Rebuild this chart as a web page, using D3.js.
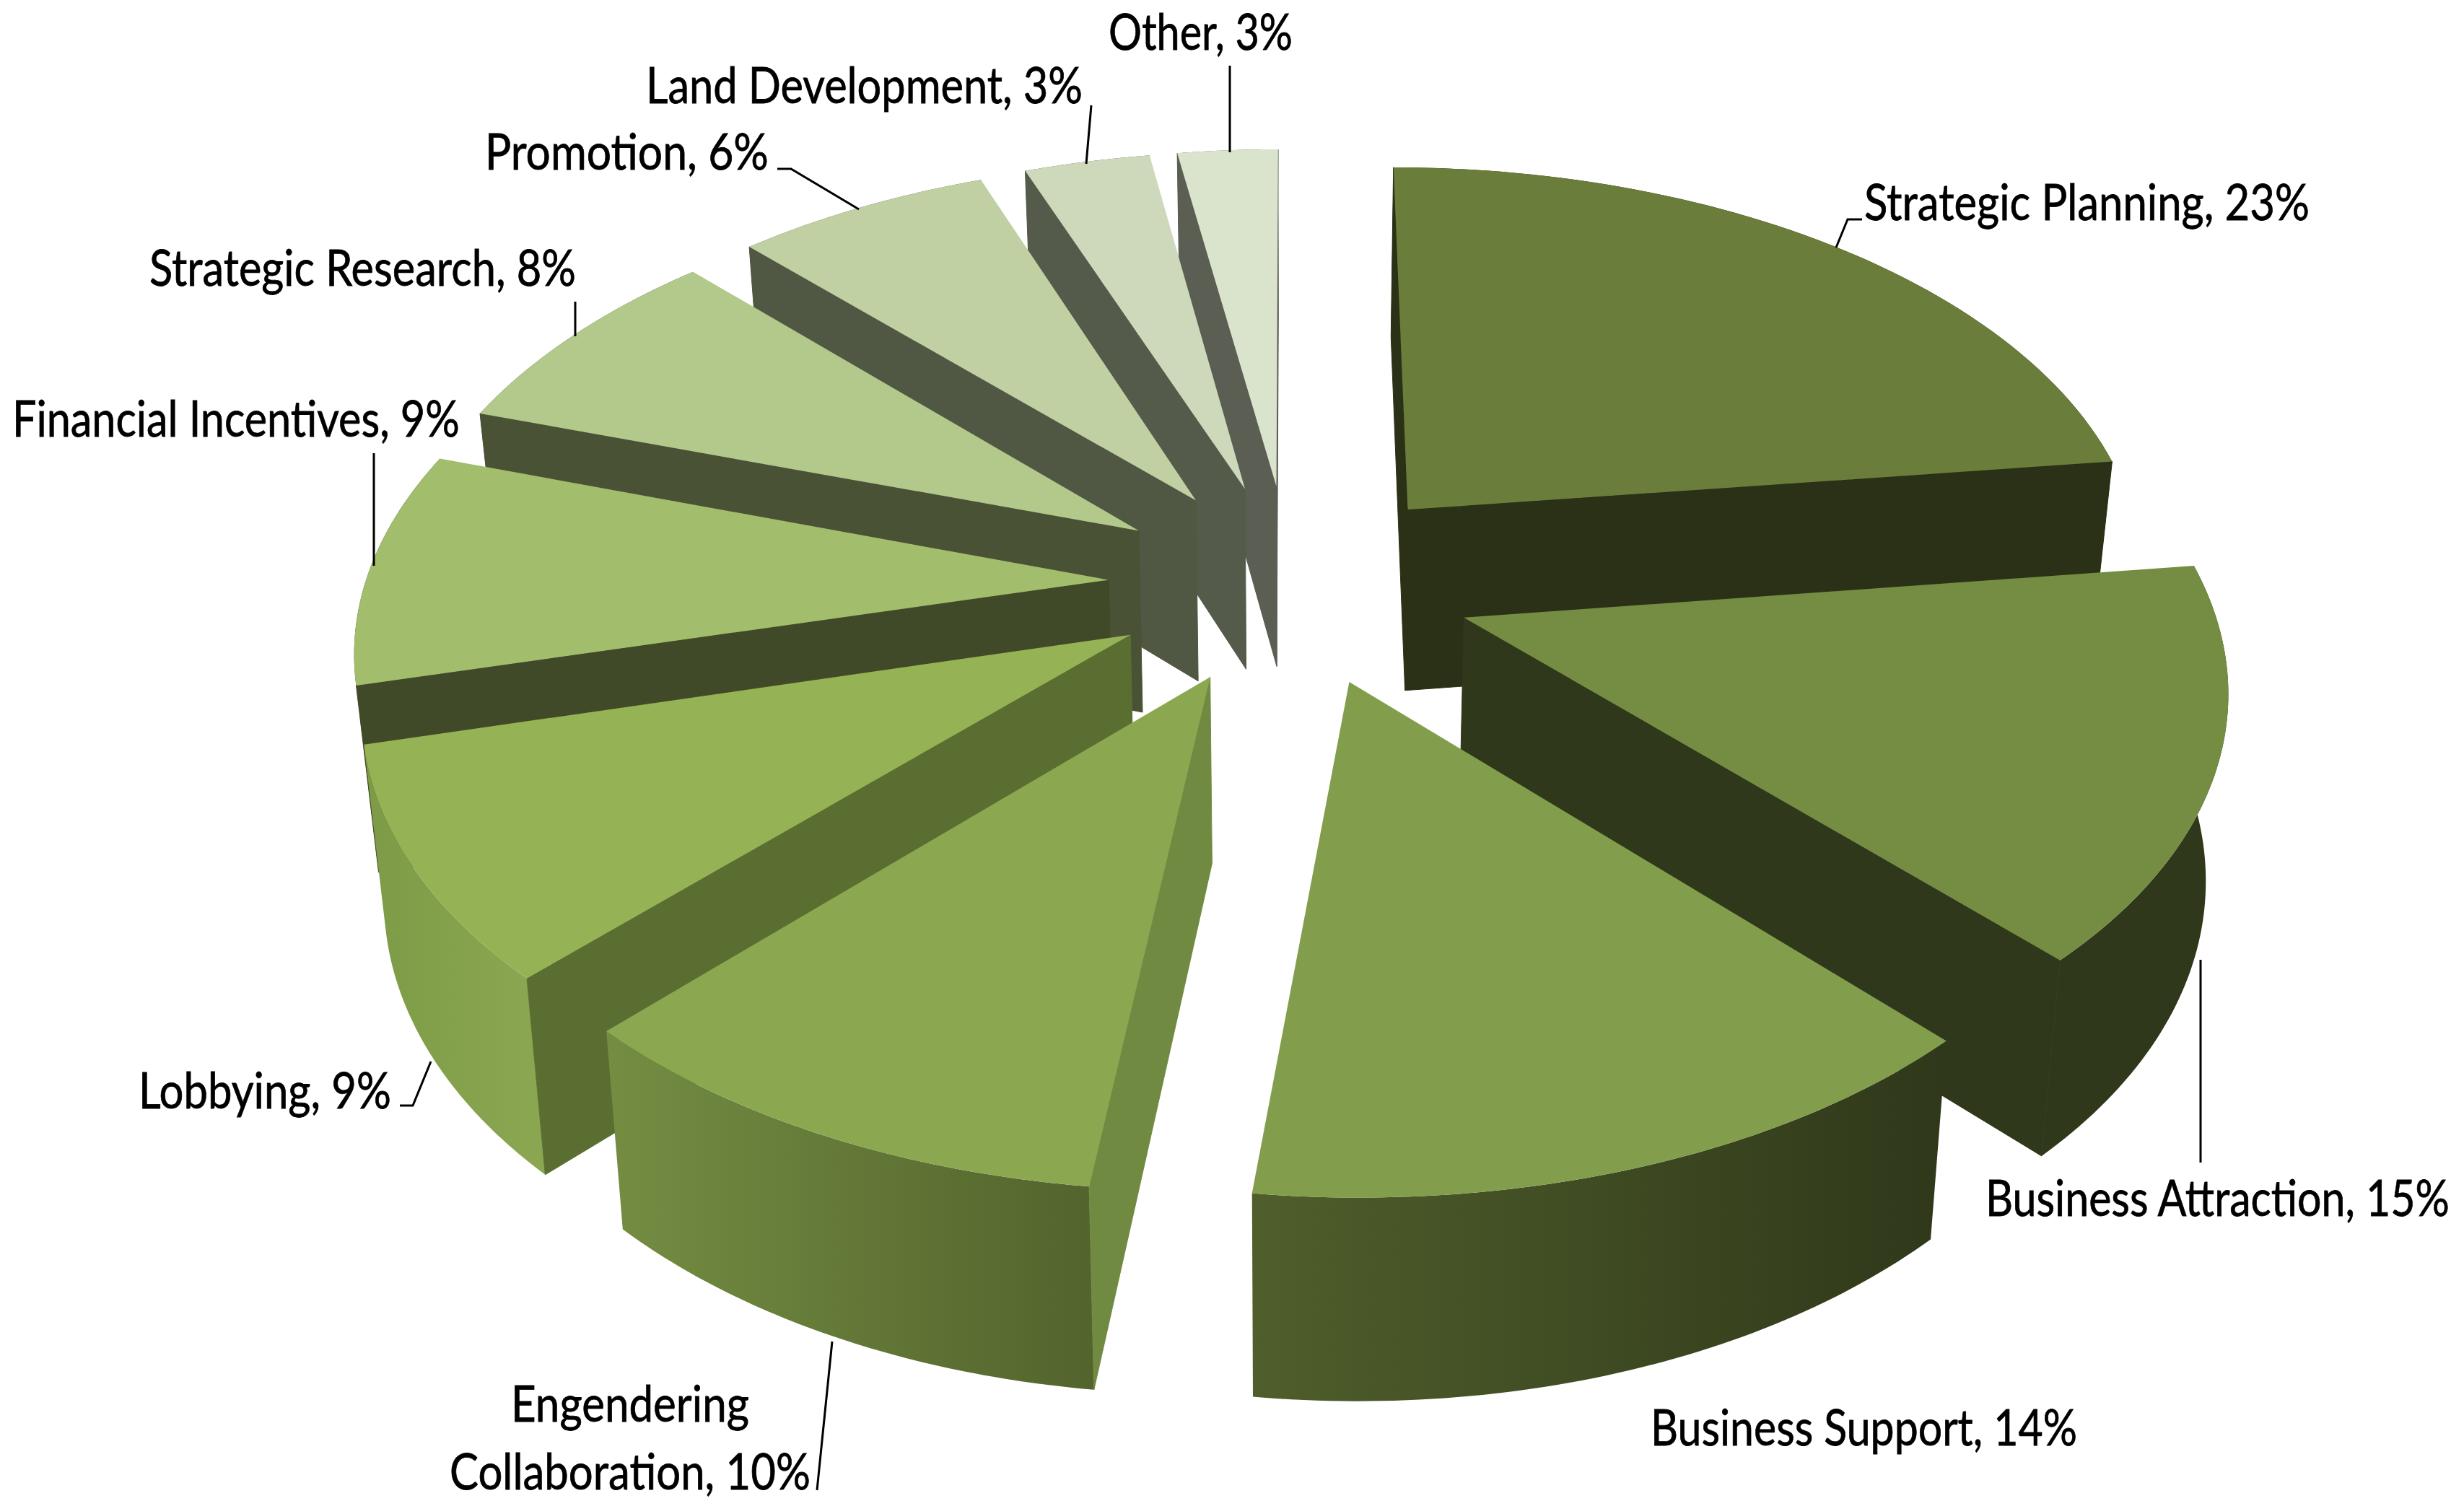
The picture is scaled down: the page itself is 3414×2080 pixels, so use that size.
<!DOCTYPE html>
<html>
<head>
<meta charset="utf-8">
<script src="https://cdn.jsdelivr.net/npm/d3@7"></script>
<style>
  html, body { margin: 0; background: #fff; }
  text { font-family: Lato, "Open Sans", sans-serif; font-size: 70px; fill: #000; stroke: #000; stroke-width: 0.8px; }
</style>
</head>
<body>
<div id="chart"></div>
<script>
const categories = ['Strategic Planning', 'Business Attraction', 'Business Support', 'Engendering Collaboration', 'Lobbying',
    'Financial Incentives', 'Strategic Research', 'Promotion', 'Land Development', 'Other'];
// labels show these rounded, the slice angles read a little finer
const shares = [23, 15, 13.9, 10.25, 8.85, 9, 7.8, 6.45, 3.2, 2.55];

const topColors = ['#6a7d3a', '#748d42', '#829e4c', '#8ba850', '#95b254', '#a2bd6b', '#b3c98c', '#c0d0a3', '#cdd9ba', '#dae3cc'];
const sideColors = ['#2a3116', '#2f381a', '#2f381a', '#718a41', '#5b6e32', '#414a28', '#4a5236', '#505742', '#555b4a', '#5a5e53'];
// left and right colour of the curved outer wall
const wallLeft = ['#2a3116', '#2f381a', '#4f5e2b', '#748d42', '#7d9a46', '#414a28', '#4a5236', '#505742', '#555b4a', '#5a5e53'];
const wallRight = ['#2a3116', '#2f381a', '#2f381a', '#53642d', '#8aa650', '#414a28', '#4a5236', '#505742', '#555b4a', '#5a5e53'];

// back slices first, front ones paint over them
const drawOrder = [9, 8, 7, 6, 5, 4, 3, 0, 1, 2];

// label rows: [x, baseline, width]
const labelLayout = [
    [[2583, 305, 617]],
    [[2751, 1685, 643]],
    [[2287, 2003, 591]],
    [[708, 1970, 330], [623, 2064, 500]],
    [[192, 1536, 350]],
    [[17, 605, 620]],
    [[207, 396, 591]],
    [[672, 235, 393]],
    [[895, 143, 605]],
    [[1536, 69, 255]]
];
const leaderLines = [
    [[2580, 304], [2560, 304], [2544, 343]],
    [[3049, 1330], [3049, 1611]],
    [],
    [[1132, 2065], [1153, 1859]],
    [[554, 1532], [572, 1532], [597, 1471]],
    [[518, 628], [518, 784]],
    [[797, 418], [797, 466]],
    [[1077, 234], [1096, 234], [1190, 290]],
    [[1512, 146], [1505, 227]],
    [[1704, 91], [1704, 211]]
];

const width = 3414, height = 2080;

// perspective of the pie plane, fitted to the picture
const explode = 0.245, tilt = 0.143;
const x = d3.scaleLinear().domain([0, 1]).range([1788, 2818]);
const y = d3.scaleLinear().domain([0, 1]).range([808, 1377]);

// u right, v towards viewer, z = 0 on the top face and 1 on the bottom face
function project(u, v, z) {
    const w = 1 / (1 - tilt * v);
    const sx = x(u * w), sy = y(v * w);
    return [
        x(0) + (sx - x(0)) * (1 - 0.024 * z),
        sy + z * (254 + 0.033 * (sy - y(0)))
    ];
}

const svg = d3.select('#chart').append('svg')
    .attr('width', width)
    .attr('height', height)
    .style('display', 'block');
const defs = svg.append('defs');

const arcs = d3.pie().sort(null)(shares);
const path = d3.line().curve(d3.curveLinear);
const shape = pts => path(pts) + 'Z';

drawOrder.forEach(i => {
    const a = arcs[i];
    const mid = (a.startAngle + a.endAngle) / 2;
    const ou = explode * Math.sin(mid), ov = -explode * Math.cos(mid);
    const rim = (t, z) => project(ou + Math.sin(t), ov - Math.cos(t), z);
    const steps = d3.range(0, 61).map(k => a.startAngle + (a.endAngle - a.startAngle) * k / 60);

    const tipTop = project(ou, ov, 0), tipBottom = project(ou, ov, 1);
    const rimTop = steps.map(t => rim(t, 0));
    const rimBottom = steps.map(t => rim(t, 1));
    const g = svg.append('g').attr('class', 'slice');

    // outer wall, with a sideways gradient across the slice
    const xs = d3.extent(rimTop, p => p[0]);
    const grad = defs.append('linearGradient')
        .attr('id', 'wall' + i)
        .attr('gradientUnits', 'userSpaceOnUse')
        .attr('x1', xs[0]).attr('x2', xs[1])
        .attr('y1', 0).attr('y2', 0);
    grad.append('stop').attr('offset', 0).attr('stop-color', wallLeft[i]);
    grad.append('stop').attr('offset', 1).attr('stop-color', wallRight[i]);
    g.append('path')
        .attr('d', shape(rimTop.concat(rimBottom.slice().reverse())))
        .attr('fill', `url(#wall${i})`);

    // the two cut faces, only when they turn to the viewer
    const startFace = [tipTop, rimTop[0], rimBottom[0], tipBottom];
    const endFace = [tipTop, rimTop[60], rimBottom[60], tipBottom];
    const faces = [];
    if (d3.polygonArea(startFace) > 0) faces.push(startFace);
    if (d3.polygonArea(endFace) < 0) faces.push(endFace);
    faces.forEach(f => {
        g.append('path')
            .attr('d', shape(f))
            .attr('fill', sideColors[i])
            .attr('stroke', sideColors[i])
            .attr('stroke-width', 1);  // hides the seam next to the outer wall
    });

    g.append('path')
        .attr('d', shape([tipTop].concat(rimTop)))
        .attr('fill', topColors[i]);
});

// labels and leaders
categories.forEach((name, i) => {
    const full = `${name}, ${Math.round(shares[i])}%`;
    const rows = labelLayout[i];
    // only the two line label breaks, at its first space
    const lines = rows.length > 1 ? [full.slice(0, full.indexOf(' ')), full.slice(full.indexOf(' ') + 1)] : [full];
    rows.forEach(([lx, ly, lw], k) => {
        const t = svg.append('text').text(lines[k]);
        // squeeze to the narrow look of the original font
        t.attr('transform', `translate(${lx},${ly}) scale(${lw / t.node().getComputedTextLength()},1)`);
    });
    if (leaderLines[i].length) {
        svg.append('path')
            .attr('d', path(leaderLines[i]))
            .attr('fill', 'none')
            .attr('stroke', '#000')
            .attr('stroke-width', 3);
    }
});
</script>
</body>
</html>
